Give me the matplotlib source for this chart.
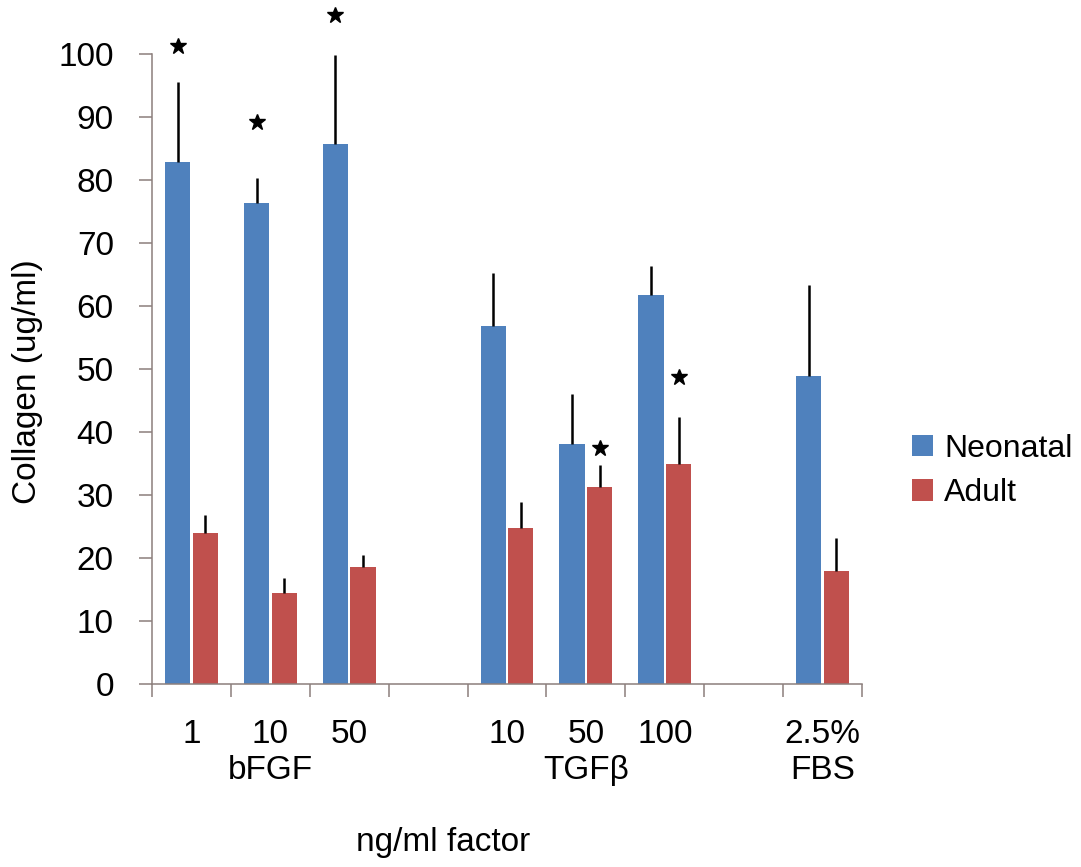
import matplotlib
matplotlib.use("Agg")
import matplotlib.pyplot as plt
import numpy as np

plt.rcParams['font.family'] = ['Liberation Sans', 'DejaVu Sans']
FS = 24

# ---- data ----
slot_labels = ["1", "10\nbFGF", "50", "", "10", "50\nTGF\u03b2", "100", "", "2.5%\nFBS"]
slot_has_data = [True, True, True, False, True, True, True, False, True]
neonatal = [82.9, 76.4, 85.7, 56.8, 38.1, 61.7, 48.9]
neonatal_err = [12.7, 3.9, 14.1, 8.5, 8.0, 4.6, 14.4]
adult = [24.0, 14.5, 18.6, 24.8, 31.2, 35.0, 17.9]
adult_err = [2.9, 2.4, 1.9, 4.1, 3.6, 7.4, 5.3]
# significance stars: (series, bar index, y)
stars = [("Neonatal", 0, 101.3), ("Neonatal", 1, 89.2), ("Neonatal", 2, 106.2),
         ("Adult", 4, 37.5), ("Adult", 5, 48.7)]
series_names = ["Neonatal", "Adult"]
colors = {"Neonatal": "#4F81BD", "Adult": "#C0504D"}

W, H = 1081, 867
fig = plt.figure(figsize=(W / 100, H / 100), dpi=100)
ax = fig.add_axes([152 / W, 1 - 684 / H, 710 / W, 630 / H])

slots = np.array([i for i, h in enumerate(slot_has_data) if h])
bw = 0.32
off = 0.175
axis_col = "#8C7F7C"

ax.bar(slots - off, neonatal, width=bw, color=colors["Neonatal"], label="Neonatal", zorder=2)
ax.bar(slots + off, adult, width=bw, color=colors["Adult"], label="Adult", zorder=2)
ax.errorbar(slots - off, neonatal, yerr=[np.zeros(len(neonatal)), neonatal_err],
            fmt="none", ecolor="black", elinewidth=1.8, capsize=0, zorder=3)
ax.errorbar(slots + off, adult, yerr=[np.zeros(len(adult)), adult_err],
            fmt="none", ecolor="black", elinewidth=1.8, capsize=0, zorder=3)

for s, i, yv in stars:
    x = slots[i] + (-off if s == "Neonatal" else off)
    ax.plot([x], [yv], marker="*", color="black", markersize=12, linestyle="none",
            clip_on=False, zorder=4)

ax.set_xlim(-0.5, len(slot_labels) - 0.5)
ax.set_ylim(0, 100)
ax.set_yticks(np.arange(0, 101, 10))
ax.set_xticks(np.arange(-0.5, len(slot_labels), 1.0))
ax.set_xticklabels([])
ax.set_xticks(np.arange(len(slot_labels)), minor=True)
ax.set_xticklabels(slot_labels, minor=True, fontsize=FS, linespacing=1.2)
ax.tick_params(axis="x", which="minor", length=0, pad=25)
ax.tick_params(axis="x", which="major", length=9.5, width=1.1, color=axis_col, direction="out")
ax.tick_params(axis="y", length=9.5, width=1.1, color=axis_col, direction="out", labelsize=FS, pad=18)

for sp in ["top", "right"]:
    ax.spines[sp].set_visible(False)
for sp in ["left", "bottom"]:
    ax.spines[sp].set_color(axis_col)
    ax.spines[sp].set_linewidth(1.1)

fig.text(28 / W, 1 - 382 / H, "Collagen (ug/ml)", rotation=90, ha="center", va="center", fontsize=FS)
fig.text(443 / W, 1 - 843 / H, "ng/ml factor", ha="center", va="center", fontsize=FS)

leg = fig.legend(loc="center left", bbox_to_anchor=(912 / W, 1 - 471 / H), frameon=False,
                 fontsize=23, handlelength=0.65, handleheight=0.65, handletextpad=0.35,
                 labelspacing=0.45, borderpad=0, borderaxespad=0)

fig.savefig("out.png", dpi=100)
